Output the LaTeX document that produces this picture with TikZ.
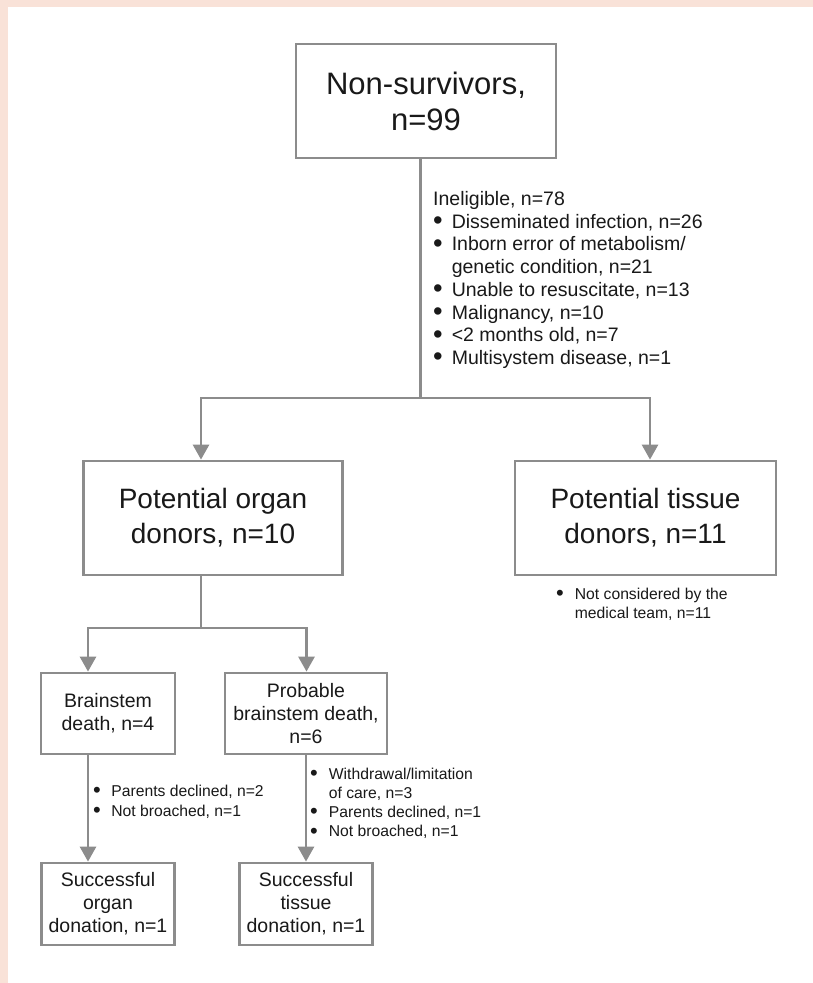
\documentclass[tikz,border=0pt]{standalone}
\usepackage{fontspec}
\setmainfont{Liberation Sans}
\usetikzlibrary{arrows.meta,positioning,calc}
\definecolor{bgpink}{RGB}{249,226,216}
\definecolor{boxgray}{RGB}{140,140,140}
\definecolor{txtdark}{RGB}{25,25,25}
\newcommand{\bul}{\smash{\raisebox{-0.08em}{\scalebox{1.4}{\textbullet}}}}

\begin{document}
\begin{tikzpicture}[x=1pt, y=-1pt]
  \tikzstyle{bigbox}=[rectangle, draw=boxgray, line width=2.8pt, fill=white, text=txtdark, align=center, inner sep=0pt]
  \tikzstyle{smallbox}=[bigbox, font=\fontsize{19.5}{23}\selectfont]
  \tikzstyle{note}=[text=txtdark, inner sep=0pt, anchor=base west, font=\fontsize{15.7}{19.5}\selectfont]
  \tikzstyle{arrow}=[-{Triangle[width=16pt,length=15pt]}, draw=boxgray, line width=2.8pt]
  \tikzstyle{link}=[draw=boxgray, line width=2.8pt]

  % page and panel
  \useasboundingbox (0,0) rectangle (813,983);
  \fill[bgpink] (0,0) rectangle (813,983);
  \fill[white] (8,7) rectangle (813,983);

  \node[bigbox, minimum width=260pt, minimum height=114pt, font=\fontsize{31}{36}\selectfont] (ns) at (426,101) {Non-survivors,\\n=99};
  \node[bigbox, minimum width=259pt, minimum height=114pt, font=\fontsize{28}{35}\selectfont] (org) at (213,518) {Potential organ\\donors, n=10};
  \node[bigbox, minimum width=261pt, minimum height=114pt, font=\fontsize{28}{35}\selectfont] (tis) at (645.5,518) {Potential tissue\\donors, n=11};
  \node[smallbox, minimum width=134pt, minimum height=81pt] (bs) at (108,713.5) {Brainstem\\death, n=4};
  \node[smallbox, minimum width=162pt, minimum height=81pt] (pbs) at (306,713.5) {Probable\\brainstem death,\\n=6};
  \node[smallbox, minimum width=133pt, minimum height=82pt] (so) at (108,904) {Successful\\organ\\donation, n=1};
  \node[smallbox, minimum width=133pt, minimum height=82pt] (st) at (306,904) {Successful\\tissue\\donation, n=1};

  % exclusion notes
  \node[note, font=\fontsize{19.5}{22.7}\selectfont] (inel) at (433,205.5) {\begin{tabular}[t]{@{}l@{\hspace{9pt}}l@{}}
    \multicolumn{2}{@{}l@{}}{Ineligible, n=78}\\
    \bul & Disseminated infection, n=26\\
    \bul & Inborn error of metabolism/\\
         & genetic condition, n=21\\
    \bul & Unable to resuscitate, n=13\\
    \bul & Malignancy, n=10\\
    \bul & <2 months old, n=7\\
    \bul & Multisystem disease, n=1
  \end{tabular}};
  \node[note, font=\fontsize{15.7}{19}\selectfont] (tisnote) at (556,599) {\begin{tabular}[t]{@{}l@{\hspace{11pt}}l@{}}
    \bul & Not considered by the\\
         & medical team, n=11
  \end{tabular}};
  \node[note, font=\fontsize{15.7}{20}\selectfont] (bsnote) at (93,796) {\begin{tabular}[t]{@{}l@{\hspace{10.5pt}}l@{}}
    \bul & Parents declined, n=2\\
    \bul & Not broached, n=1
  \end{tabular}};
  \node[note, font=\fontsize{15.7}{19.3}\selectfont] (pbsnote) at (310,779) {\begin{tabular}[t]{@{}l@{\hspace{11pt}}l@{}}
    \bul & Withdrawal/limitation\\
         & of care, n=3\\
    \bul & Parents declined, n=1\\
    \bul & Not broached, n=1
  \end{tabular}};

  % connectors
  \coordinate (j1) at (420.5,398);
  \coordinate (j2) at (201,628);
  \draw[link] ([xshift=-5.5pt]ns.south) -- (j1);
  \draw[arrow] (j1) -| ([xshift=-12pt]org.north);
  \draw[arrow] (j1) -| ([xshift=4.5pt]tis.north);
  \draw[link] ([xshift=-12pt]org.south) -- (j2);
  \draw[arrow] (j2) -| ([xshift=-20pt]bs.north);
  \draw[arrow] (j2) -| ([xshift=0.5pt]pbs.north);
  \draw[arrow] ([xshift=-20pt]bs.south) -- ([xshift=-20pt]so.north);
  \draw[arrow] (pbs.south) -- (st.north);
\end{tikzpicture}
\end{document}
